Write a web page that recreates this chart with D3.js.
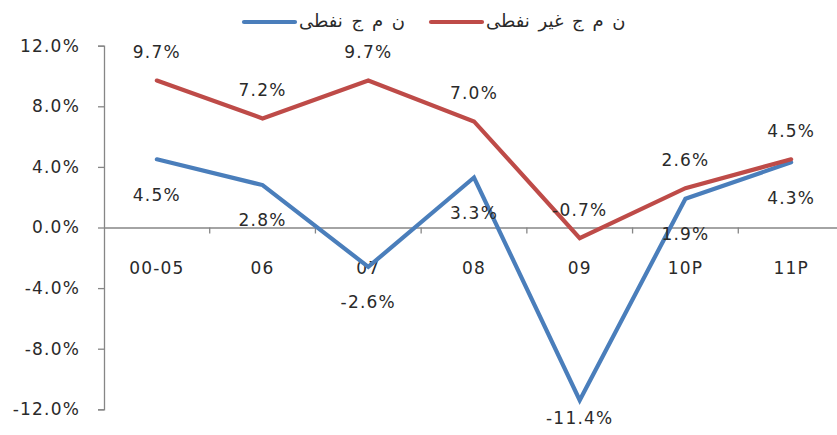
<!DOCTYPE html>
<html>
<head>
<meta charset="utf-8">
<script src="https://cdn.jsdelivr.net/npm/d3@7"></script>
<style>
  html, body { margin: 0; padding: 0; background: #fff; }
  svg { display: block; }
  text { font-family: "DejaVu Sans", Verdana, sans-serif; fill: #2a2a2a; }
</style>
</head>
<body>
<svg id="chart" width="837" height="435"></svg>
<script>
// Growth periods
const categories = ["00-05", "06", "07", "08", "09", "10P", "11P"];
// Oil GDP growth (%)
const oilGdp = [4.5, 2.8, -2.6, 3.3, -11.4, 1.9, 4.3];
// Non-oil GDP growth (%)
const nonOilGdp = [9.7, 7.2, 9.7, 7.0, -0.7, 2.6, 4.5];
const yTicks = [-12, -8, -4, 0, 4, 8, 12];
const seriesNames = ["ن م ج  نفطى", "ن م ج غير نفطى"];

const svg = d3.select("#chart");

const x = d3.scaleBand().domain(categories).range([104, 844]).paddingInner(0).paddingOuter(0);
const y = d3.scaleLinear().domain([-12, 12]).range([409.3, 45.7]);

const axisColor = "#868686";
const fmt = v => v.toFixed(1) + "%";
const fontSize = "17px";
const spacing = "1.2px";

// Y axis
const yAxis = svg.append("g")
  .attr("transform", `translate(${x.range()[0]},0)`)
  .call(d3.axisLeft(y).tickValues(yTicks).tickFormat(fmt).tickSize(6).tickPadding(18));
yAxis.select(".domain").attr("stroke", axisColor).attr("stroke-width", 1.3);
yAxis.selectAll(".tick line").attr("stroke", axisColor).attr("stroke-width", 1.3);
yAxis.selectAll(".tick text")
  .style("font-family", "DejaVu Sans, Verdana, sans-serif")
  .style("font-size", fontSize).style("letter-spacing", spacing).attr("fill", "#2a2a2a");

// X axis along the zero line
const xAxis = svg.append("g")
  .attr("transform", `translate(0,${y(0)})`)
  .call(d3.axisBottom(x).tickSize(0).tickPadding(0));
xAxis.select(".domain").attr("stroke", axisColor).attr("stroke-width", 1.3);
xAxis.selectAll(".tick").remove();
// boundary ticks between categories
svg.append("g").selectAll("line")
  .data(categories.slice(1))
  .join("line")
  .attr("x1", d => x(d)).attr("x2", d => x(d))
  .attr("y1", y(0)).attr("y2", y(0) + 6)
  .attr("stroke", axisColor).attr("stroke-width", 1.3);
// category labels
svg.append("g").selectAll("text")
  .data(categories)
  .join("text")
  .attr("x", d => x(d) + x.bandwidth() / 2)
  .attr("y", 274)
  .attr("text-anchor", "middle")
  .style("font-size", fontSize).style("letter-spacing", spacing)
  .text(d => d);

const cx = d => x(d) + x.bandwidth() / 2;
const line = d3.line().x(d => cx(d.c)).y(d => y(d.v));

const series = [
  { name: seriesNames[0], values: oilGdp, color: "#4A7EBB", labelDy: 35 },
  { name: seriesNames[1], values: nonOilGdp, color: "#BE4B48", labelDy: -28.5 }
];

// Lines: non-oil drawn after oil so it sits on top
series.forEach(s => {
  svg.append("path")
    .datum(categories.map((c, i) => ({ c, v: s.values[i] })))
    .attr("fill", "none")
    .attr("stroke", s.color)
    .attr("stroke-width", 4.2)
    .attr("stroke-linecap", "round")
    .attr("stroke-linejoin", "miter")
    .attr("d", line);
});

// Value labels, centred above/below each point; the lowest one is kept inside the frame
series.forEach(s => {
  svg.append("g").selectAll("text")
    .data(s.values)
    .join("text")
    .attr("x", (d, i) => cx(categories[i]))
    .attr("y", d => Math.min(y(d) + s.labelDy, 418) + 6.2)
    .attr("text-anchor", "middle")
    .style("font-size", fontSize).style("letter-spacing", spacing)
    .text(d => fmt(d));
});

// Legend
const legend = svg.append("g");
const legendItems = [
  { s: series[0], x0: 244 },
  { s: series[1], x0: 431 }
];
legendItems.forEach(it => {
  legend.append("line")
    .attr("x1", it.x0).attr("x2", it.x0 + 51)
    .attr("y1", 22).attr("y2", 22)
    .attr("stroke", it.s.color).attr("stroke-width", 4.2)
    .attr("stroke-linecap", "round");
  legend.append("text")
    .attr("x", it.x0 + 55).attr("y", 27)
    .attr("text-anchor", "start")
    .style("font-size", "18px")
    .style("word-spacing", "3px")
    .text(it.s.name);
});
</script>
</body>
</html>
